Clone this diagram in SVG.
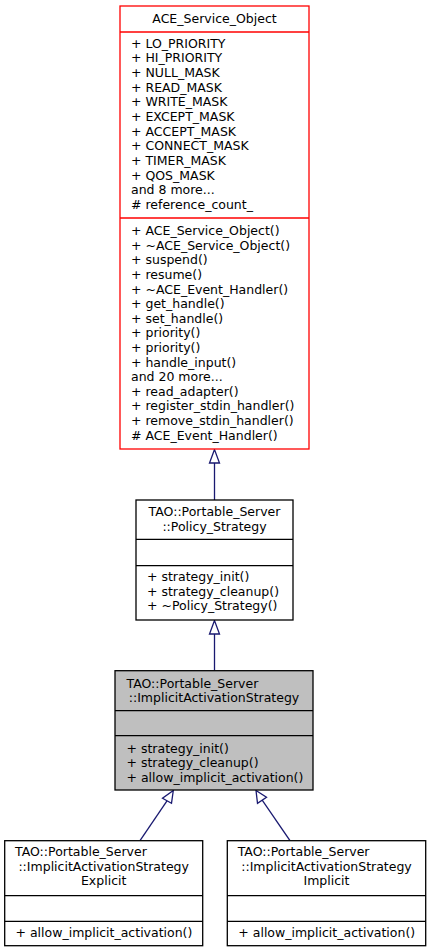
<svg xmlns="http://www.w3.org/2000/svg" width="431" height="952" viewBox="0 0 431 952">
<style>
text{font-family:"DejaVu Sans",sans-serif;font-size:12.5px;fill:#000}
.c{text-anchor:middle}
.box{fill:#fff;stroke:#000;stroke-width:1.3}
.red{stroke:#ff0000}
.gray{fill:#bfbfbf}
.sep{stroke:#000;stroke-width:1.3}
.sepr{stroke:#ff0000;stroke-width:1.3}
.edge{stroke:#191970;stroke-width:1.3;fill:none}
.head{stroke:#191970;stroke-width:1.3;fill:#fff}
</style>
<rect width="431" height="952" fill="#fff"/>
<g id="connectors">
<line class="edge" x1="214.5" y1="463" x2="214.5" y2="500"/>
<polygon class="head" points="214.5,449.5 209.5,463 219.5,463"/>
<line class="edge" x1="214.5" y1="634" x2="214.5" y2="670.7"/>
<polygon class="head" points="214.5,620.5 209.5,634 219.5,634"/>
<line class="edge" x1="167" y1="800.8" x2="140" y2="840.7"/>
<polygon class="head" points="173.3,790.5 162.5,798.3 171.5,803.3"/>
<line class="edge" x1="262" y1="799.8" x2="290" y2="840.7"/>
<polygon class="head" points="256,790.5 257.5,803.3 266.5,797.3"/>
</g>
<g id="ACE_Service_Object">
<rect class="box red" x="120" y="6" width="189" height="443"/>
<line class="sepr" x1="120" y1="32" x2="309" y2="32"/>
<line class="sepr" x1="120" y1="218" x2="309" y2="218"/>
<text class="c" x="214.5" y="23">ACE_Service_Object</text>
<text x="131" y="47.8">+ LO_PRIORITY</text>
<text x="131" y="62.4">+ HI_PRIORITY</text>
<text x="131" y="77.1">+ NULL_MASK</text>
<text x="131" y="91.7">+ READ_MASK</text>
<text x="131" y="106.3">+ WRITE_MASK</text>
<text x="131" y="121">+ EXCEPT_MASK</text>
<text x="131" y="135.6">+ ACCEPT_MASK</text>
<text x="131" y="150.2">+ CONNECT_MASK</text>
<text x="131" y="164.8">+ TIMER_MASK</text>
<text x="131" y="179.5">+ QOS_MASK</text>
<text x="131" y="194.1">and 8 more...</text>
<text x="131" y="208.7"># reference_count_</text>
<text x="131" y="235.2">+ ACE_Service_Object()</text>
<text x="131" y="249.8">+ ~ACE_Service_Object()</text>
<text x="131" y="264.4">+ suspend()</text>
<text x="131" y="279">+ resume()</text>
<text x="131" y="293.6">+ ~ACE_Event_Handler()</text>
<text x="131" y="308.2">+ get_handle()</text>
<text x="131" y="322.8">+ set_handle()</text>
<text x="131" y="337.4">+ priority()</text>
<text x="131" y="352">+ priority()</text>
<text x="131" y="366.6">+ handle_input()</text>
<text x="131" y="381.2">and 20 more...</text>
<text x="131" y="395.8">+ read_adapter()</text>
<text x="131" y="410.4">+ register_stdin_handler()</text>
<text x="131" y="425">+ remove_stdin_handler()</text>
<text x="131" y="439.6"># ACE_Event_Handler()</text>
</g>
<g id="Policy_Strategy">
<rect class="box" x="136" y="500" width="157" height="120"/>
<line class="sep" x1="136" y1="539.3" x2="293" y2="539.3"/>
<line class="sep" x1="136" y1="565.7" x2="293" y2="565.7"/>
<text class="c" x="214.5" y="516.2">TAO::Portable_Server</text>
<text class="c" x="214.5" y="531">::Policy_Strategy</text>
<text x="147" y="581.2">+ strategy_init()</text>
<text x="147" y="595.8">+ strategy_cleanup()</text>
<text x="147" y="610.4">+ ~Policy_Strategy()</text>
</g>
<g id="ImplicitActivationStrategy">
<rect class="box gray" x="115" y="670.7" width="198" height="119.3"/>
<line class="sep" x1="115" y1="710.7" x2="313" y2="710.7"/>
<line class="sep" x1="115" y1="735.7" x2="313" y2="735.7"/>
<text x="126.5" y="687.6">TAO::Portable_Server</text>
<text class="c" x="214" y="702.2">::ImplicitActivationStrategy</text>
<text x="126.5" y="752.8">+ strategy_init()</text>
<text x="126.5" y="767.2">+ strategy_cleanup()</text>
<text x="126.5" y="781.6">+ allow_implicit_activation()</text>
</g>
<g id="ImplicitActivationStrategyExplicit">
<rect class="box" x="4.7" y="840.7" width="198" height="105"/>
<line class="sep" x1="4.7" y1="895.7" x2="202.7" y2="895.7"/>
<line class="sep" x1="4.7" y1="921.3" x2="202.7" y2="921.3"/>
<text x="15" y="856.2">TAO::Portable_Server</text>
<text class="c" x="103.7" y="870.8">::ImplicitActivationStrategy</text>
<text class="c" x="103.7" y="885.4">Explicit</text>
<text x="15.5" y="936.8">+ allow_implicit_activation()</text>
</g>
<g id="ImplicitActivationStrategyImplicit">
<rect class="box" x="227.3" y="840.7" width="198.4" height="105"/>
<line class="sep" x1="227.3" y1="895.7" x2="425.7" y2="895.7"/>
<line class="sep" x1="227.3" y1="921.3" x2="425.7" y2="921.3"/>
<text x="237.7" y="856.2">TAO::Portable_Server</text>
<text class="c" x="326.5" y="870.8">::ImplicitActivationStrategy</text>
<text class="c" x="326.5" y="885.4">Implicit</text>
<text x="238.3" y="936.8">+ allow_implicit_activation()</text>
</g>
</svg>
